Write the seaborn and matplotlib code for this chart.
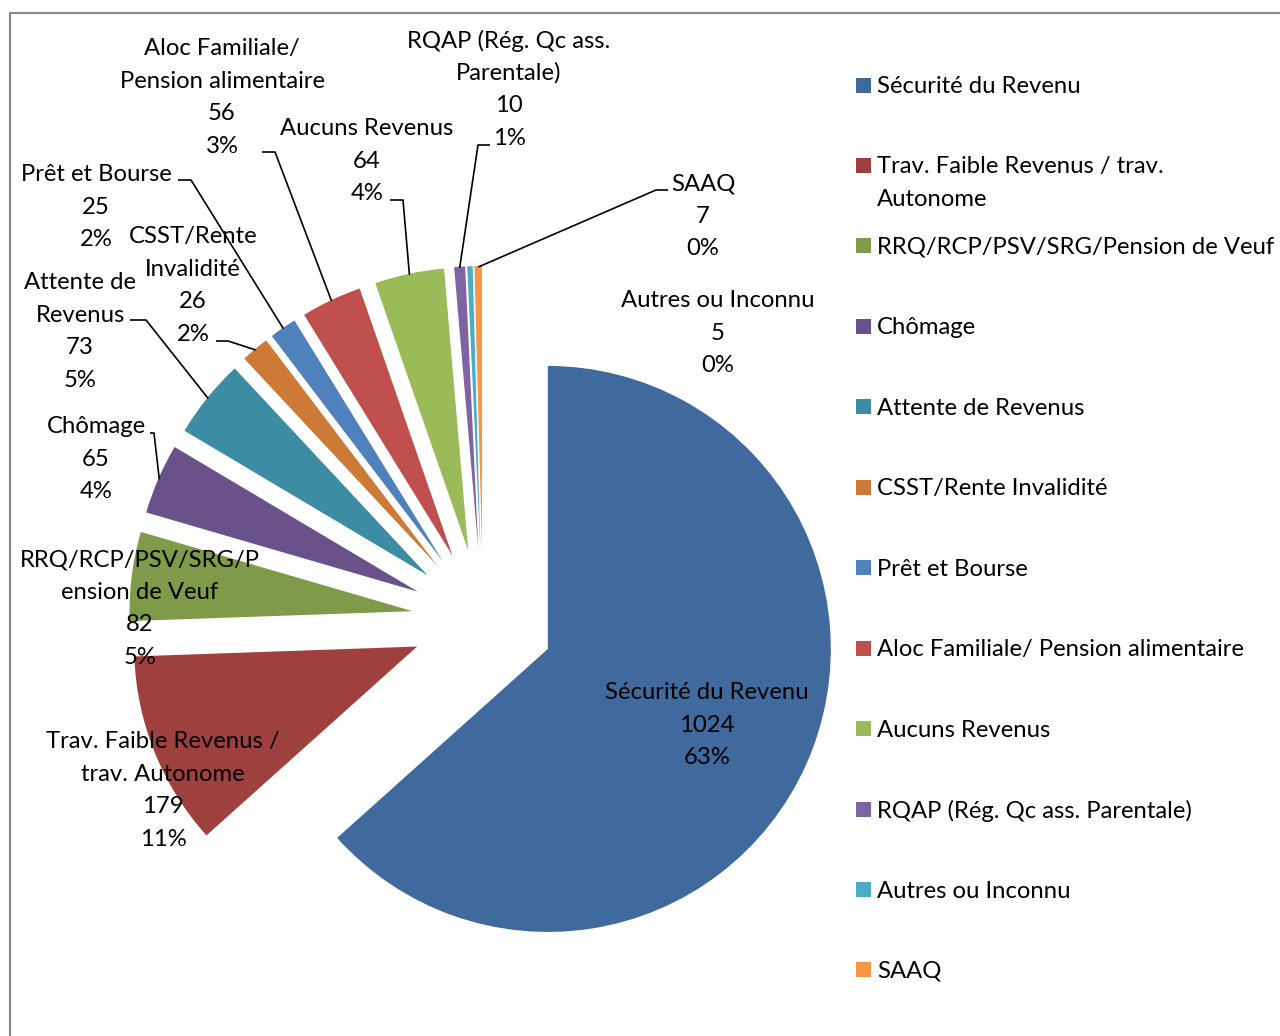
import matplotlib
matplotlib.use("Agg")
import matplotlib.pyplot as plt
import seaborn as sns
import numpy as np
from matplotlib.patches import Rectangle
from matplotlib.lines import Line2D

# ---------------- data ----------------
categories = ["Sécurité du Revenu", "Trav. Faible Revenus / trav. Autonome",
              "RRQ/RCP/PSV/SRG/Pension de Veuf", "Chômage", "Attente de Revenus",
              "CSST/Rente Invalidité", "Prêt et Bourse", "Aloc Familiale/ Pension alimentaire",
              "Aucuns Revenus", "RQAP (Rég. Qc ass. Parentale)", "Autres ou Inconnu", "SAAQ"]
values = [1024, 179, 82, 65, 73, 26, 25, 56, 64, 10, 5, 7]
label_names = ["Sécurité du Revenu", "Trav. Faible Revenus /\ntrav. Autonome",
               "RRQ/RCP/PSV/SRG/P\nension de Veuf", "Chômage", "Attente de\nRevenus",
               "CSST/Rente\nInvalidité", "Prêt et Bourse", "Aloc Familiale/\nPension alimentaire",
               "Aucuns Revenus", "RQAP (Rég. Qc ass.\nParentale)", "Autres ou Inconnu", "SAAQ"]
legend_names = ["Sécurité du Revenu", "Trav. Faible Revenus / trav.\nAutonome",
                "RRQ/RCP/PSV/SRG/Pension de Veuf", "Chômage", "Attente de Revenus",
                "CSST/Rente Invalidité", "Prêt et Bourse", "Aloc Familiale/ Pension alimentaire",
                "Aucuns Revenus", "RQAP (Rég. Qc ass. Parentale)", "Autres ou Inconnu", "SAAQ"]
colors = ["#40699D", "#9E403D", "#7F9A48", "#69528A", "#3C8DA4", "#CD7A37",
          "#4F81BD", "#C0504D", "#9BBB59", "#8064A2", "#4BACC6", "#F79646"]

# ---------------- style / layout ----------------
sns.set_theme(style="white")
plt.rcParams["font.family"] = ["Lato", "DejaVu Sans"]
FS = 17.2
W, H = 1280, 1036
LINE = 32.7
DY = 1.5  # small vertical text offset

fig = plt.figure(figsize=(W / 100, H / 100), dpi=100)
ax = fig.add_axes([0, 0, 1, 1])

wedges, _ = ax.pie(values, colors=colors, startangle=90, counterclock=False,
                   radius=283, center=(483, H - 620), explode=[71] * len(values),
                   wedgeprops=dict(linewidth=0))
ax.set_xlim(0, W)
ax.set_ylim(0, H)
ax.set_aspect("equal")
ax.axis("off")

total = sum(values)

# data labels (x center, y of first line in px from top)
label_pos = [(707, 691), (163, 740), (140, 558), (96, 425), (80, 281), (193, 235),
             (96, 173), (222, 47), (367, 127), (509, 39), (718, 299), (703, 182)]
for name, v, (lx, ly) in zip(label_names, values, label_pos):
    lines = name.split("\n") + [str(v), f"{round(v / total * 100):.0f}%"]
    for k, t in enumerate(lines):
        ax.text(lx, H - (ly + DY + k * LINE), t, ha="center", va="center",
                fontsize=FS, color="black", zorder=5)

# leader lines: label-side anchor points (px), end on wedge outer edge
leader_start = {3: [(150, 433), (154, 433)], 4: [(130, 320), (146, 320)],
                5: [(216, 341), (228, 341)], 6: [(178, 180), (191, 180)],
                7: [(262, 152), (275, 152)], 8: [(390, 200), (403, 200)],
                9: [(490, 145), (478, 145)], 11: [(668, 190), (656, 190)]}
for i, pts in leader_start.items():
    w = wedges[i]
    th = np.deg2rad((w.theta1 + w.theta2) / 2)
    ex = w.center[0] + (w.r - 1) * np.cos(th)
    ey = w.center[1] + (w.r - 1) * np.sin(th)
    xs = [p[0] for p in pts] + [ex]
    ys = [H - p[1] for p in pts] + [ey]
    ax.plot(xs, ys, color="black", lw=1.2, zorder=4, solid_capstyle="butt")

# legend
leg_y0, leg_step = 85, 80.45
for i, (name, c) in enumerate(zip(legend_names, colors)):
    y = leg_y0 + i * leg_step
    ax.add_patch(Rectangle((856, H - y - 7.5), 15, 15, facecolor=c, edgecolor="none"))
    for k, t in enumerate(name.split("\n")):
        ax.text(877, H - (y + DY + k * LINE), t, ha="left", va="center",
                fontsize=FS, color="black")

# chart border (left and top visible)
fig.add_artist(Line2D([9.5 / W, 9.5 / W, 1], [0, 1 - 12.5 / H, 1 - 12.5 / H],
                      transform=fig.transFigure, color="#868686", lw=1.5))

fig.savefig("out.png", dpi=100, facecolor="white")
